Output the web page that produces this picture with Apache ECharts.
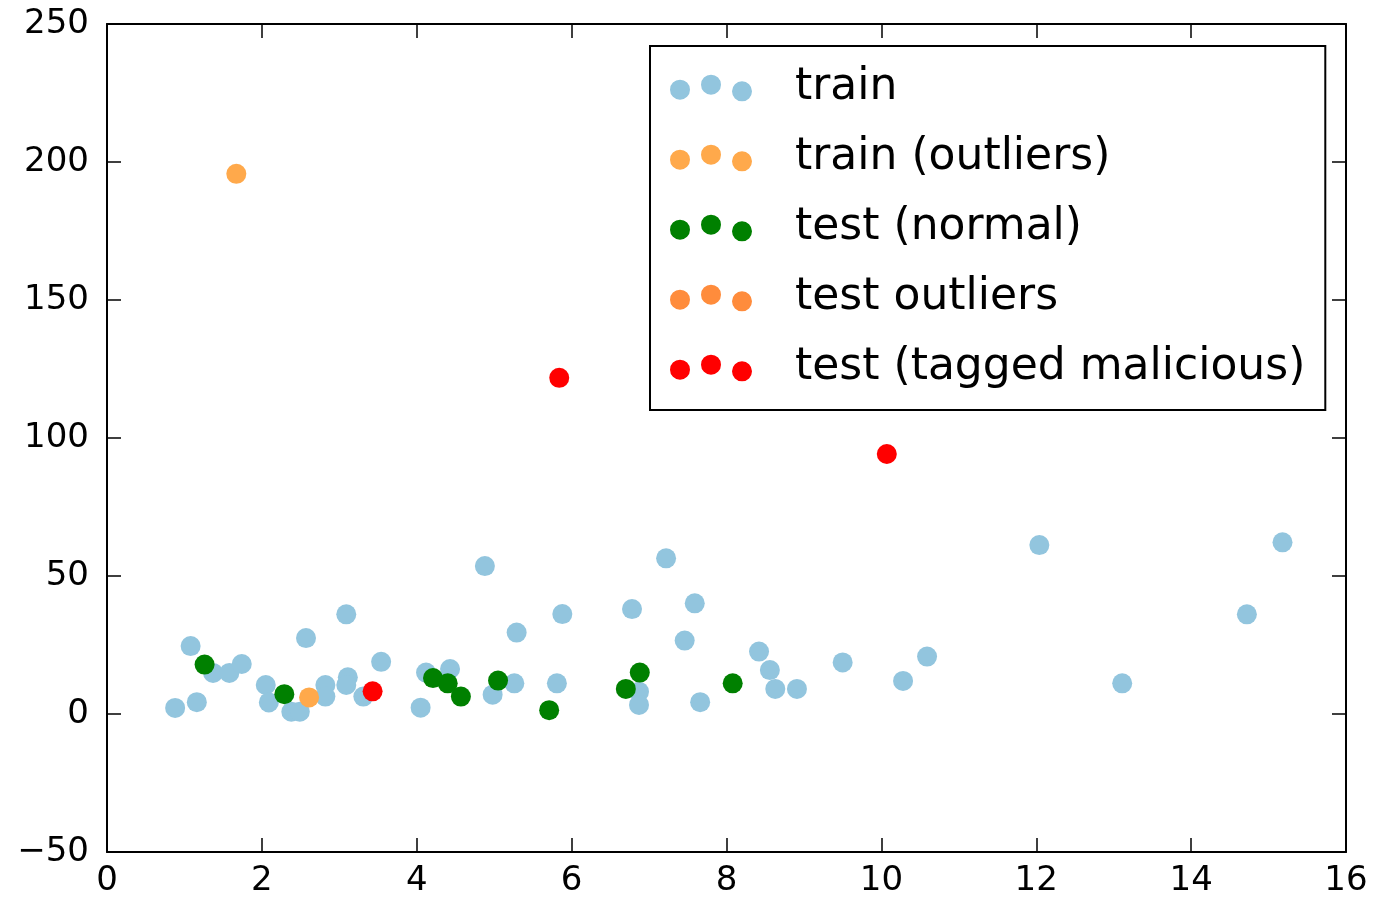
<!DOCTYPE html>
<html>
<head>
<meta charset="utf-8">
<title>train / test scatter</title>
<script src="https://cdn.jsdelivr.net/npm/echarts@6/dist/echarts.min.js"></script>
<style>
  html, body { margin: 0; padding: 0; background: #fff; }
  #main { width: 1374px; height: 901px; }
</style>
</head>
<body>
<div id="main"></div>
<script>
// series names as in the legend
var seriesNames = ['train', 'train (outliers)', 'test (normal)', 'test outliers', 'test (tagged malicious)'];

// values
var trainX = [0.88, 1.08, 1.16, 1.37, 1.58, 1.74, 2.05, 2.09, 2.38, 2.49, 2.57, 2.82, 2.82, 3.09, 3.11,
              3.09, 3.31, 3.54, 4.05, 4.12, 4.43, 4.88, 4.98, 5.26, 5.29, 5.81, 5.88, 6.78, 6.87, 6.87,
              7.22, 7.46, 7.59, 7.66, 8.42, 8.56, 8.63, 8.91, 9.50, 10.28, 10.59, 12.04, 13.11, 14.72, 15.18];
var trainY = [2.2, 24.6, 4.3, 14.9, 14.9, 18.1, 10.5, 4.2, 0.8, 0.8, 27.5, 10.5, 6.3, 36.1, 13.3,
              10.5, 6.3, 18.9, 2.3, 15.0, 16.3, 53.6, 7.0, 11.1, 29.5, 11.1, 36.2, 38.0, 8.1, 3.3,
              56.4, 26.6, 40.1, 4.3, 22.6, 15.9, 9.1, 9.1, 18.7, 12.0, 20.8, 61.2, 11.1, 36.1, 62.2];

var trainOutX = [1.67, 2.61];
var trainOutY = [195.7, 6.0];

var testNormX = [1.26, 2.29, 4.21, 4.40, 4.57, 5.05, 5.71, 6.70, 6.88, 8.08];
var testNormY = [17.9, 7.2, 13.0, 11.1, 6.3, 12.1, 1.4, 9.1, 15.0, 11.1];

var testOutX = [];
var testOutY = [];

var maliciousX = [3.43, 5.84, 10.07];
var maliciousY = [8.2, 121.8, 94.2];

var xTicks = [0, 2, 4, 6, 8, 10, 12, 14, 16];
var yTicks = [-50, 0, 50, 100, 150, 200, 250];

var colors = ['#92c5de', '#ffa94b', '#008000', '#ff8c3c', '#ff0000'];

function pairs(xs, ys) {
    return xs.map(function (x, i) { return [x, ys[i]]; });
}

// three dots like matplotlib's scatter legend handle (trailing M pads the text offset)
var dotsIcon = 'path://M0,15a10,10 0 1,0 20,0a10,10 0 1,0 -20,0Z' +
    'M31,10a10,10 0 1,0 20,0a10,10 0 1,0 -20,0Z' +
    'M62,16.7a10,10 0 1,0 20,0a10,10 0 1,0 -20,0Z M120,0';

var font = 'DejaVu Sans';
var lineStyle = { color: '#000', width: 2 };

function xAxisCfg(pos, showLabel) {
    return {
        type: 'value', position: pos,
        min: xTicks[0], max: xTicks[xTicks.length - 1], interval: 2,
        axisLine: { show: true, onZero: false, lineStyle: lineStyle },
        axisTick: { show: true, inside: true, length: 14, lineStyle: { color: '#000', width: 1.5 } },
        axisLabel: { show: showLabel, color: '#000', fontFamily: font, fontSize: 34, margin: 12 },
        splitLine: { show: false }
    };
}
function yAxisCfg(pos, showLabel) {
    return {
        type: 'value', position: pos,
        min: yTicks[0], max: yTicks[yTicks.length - 1], interval: 50,
        axisLine: { show: true, onZero: false, lineStyle: lineStyle },
        axisTick: { show: true, inside: true, length: 14, lineStyle: { color: '#000', width: 1.5 } },
        axisLabel: {
            show: showLabel, color: '#000', fontFamily: font, fontSize: 34, margin: 18,
            formatter: function (v) { return String(v).replace('-', '\u2212'); }
        },
        splitLine: { show: false }
    };
}

var xsAll = [trainX, trainOutX, testNormX, testOutX, maliciousX];
var ysAll = [trainY, trainOutY, testNormY, testOutY, maliciousY];

var series = seriesNames.map(function (name, i) {
    return {
        name: name,
        type: 'scatter',
        symbol: 'circle',
        symbolSize: 20,
        itemStyle: { color: colors[i], opacity: 1 },
        data: pairs(xsAll[i], ysAll[i]),
        z: 2 + i
    };
});

var myChart = echarts.init(document.getElementById('main'));
myChart.setOption({
    animation: false,
    backgroundColor: '#fff',
    grid: { left: 107, right: 28, top: 24, bottom: 49 },
    xAxis: [xAxisCfg('bottom', true), xAxisCfg('top', false)],
    yAxis: [yAxisCfg('left', true), yAxisCfg('right', false)],
    legend: {
        orient: 'vertical',
        left: 650, top: 46,
        padding: [17, 20, 17, 20],
        itemGap: 20,
        itemWidth: 120, itemHeight: 26.7,
        icon: dotsIcon,
        backgroundColor: '#fff',
        borderColor: '#000',
        borderWidth: 2,
        borderRadius: 0,
        textStyle: { color: '#000', fontFamily: font, fontSize: 44, lineHeight: 50 },
        data: seriesNames
    },
    series: series
});
</script>
</body>
</html>
